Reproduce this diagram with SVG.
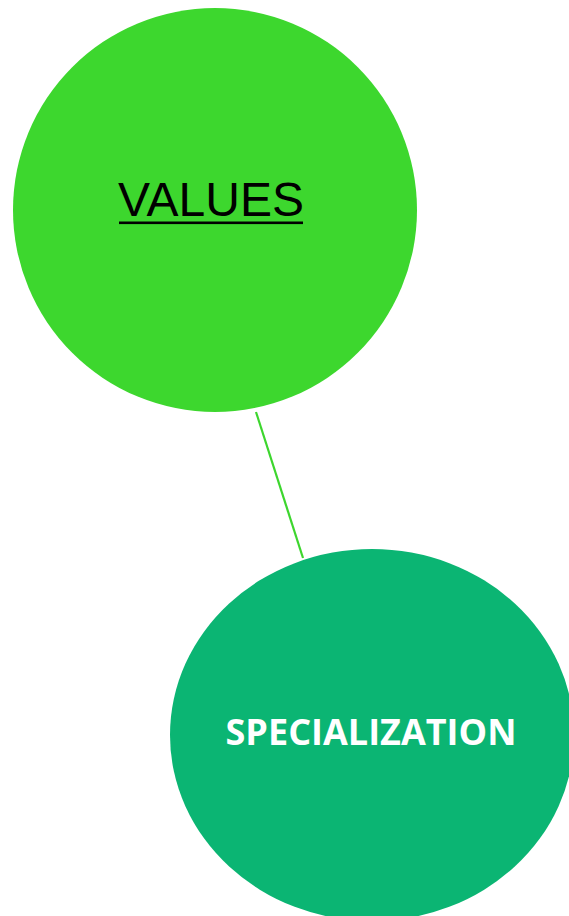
<svg xmlns="http://www.w3.org/2000/svg" width="569" height="916" viewBox="0 0 569 916">
<style>
.conn{stroke:#3dd62e;stroke-width:2.2;fill:none}
.t1{font-family:"Liberation Sans",Arial,sans-serif;font-size:48px;fill:#000;text-anchor:middle}
.t2{font-family:"Open Sans",sans-serif;font-weight:bold;font-size:36px;fill:#fff;text-anchor:middle}
</style>
<rect width="569" height="916" fill="#fff"/>
<g id="connectors">
<line class="conn" x1="256" y1="412" x2="303" y2="558"/>
</g>
<g id="values">
<circle cx="215" cy="210" r="202" fill="#3dd72e"/>
<text class="t1" x="211" y="216">VALUES</text>
<rect x="119" y="221.5" width="184" height="2.6" fill="#000"/>
</g>
<g id="specialization">
<ellipse cx="372" cy="735" rx="202" ry="186" fill="#0bb573"/>
<text class="t2" x="371" y="745">SPECIALIZATION</text>
</g>
</svg>
